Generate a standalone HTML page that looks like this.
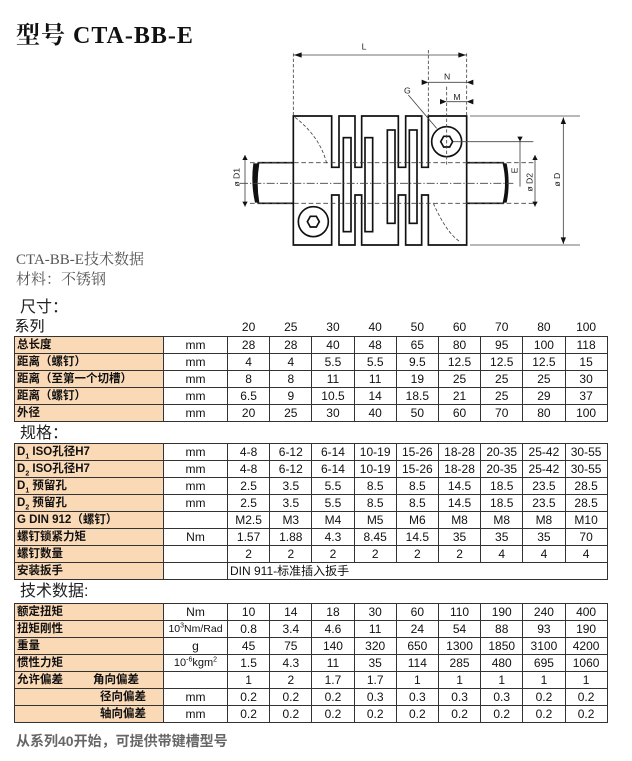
<!DOCTYPE html>
<html><head><meta charset="utf-8">
<style>
body{margin:0;width:632px;height:761px;background:#fff;position:relative;overflow:hidden;font-family:"Liberation Sans","Noto Sans CJK SC",sans-serif;color:#111}
.abs{position:absolute;white-space:nowrap}
table{position:absolute;left:14px;border-collapse:collapse;table-layout:fixed;width:593px;font-size:12px}
tr{height:17px}
td{border:1px solid #333;height:16px;padding:0;text-align:center;line-height:16px;overflow:hidden;white-space:nowrap}
td.l{background:#fad9b6;text-align:left;padding-left:2px;font-weight:bold;font-size:11.5px}
tr.h td{border:none;font-size:12px}
sub,sup{line-height:0;font-size:7px}
.sec{font-size:16px;color:#222;line-height:18px}
</style></head><body>
<div class="abs" style="left:16px;top:15px;font-family:'Liberation Serif','Noto Serif CJK SC',serif;font-weight:bold;font-size:24px;letter-spacing:1px">型号 CTA-BB-E</div>
<div class="abs" style="left:16px;top:248px;font-family:'Liberation Serif','Noto Serif CJK SC',serif;font-size:15px;color:#555">CTA-BB-E技术数据</div>
<div class="abs" style="left:16px;top:268px;font-family:'Liberation Serif','Noto Serif CJK SC',serif;font-size:15px;color:#555">材料：不锈钢</div>

<svg class="abs" style="left:220px;top:40px" width="360" height="210" viewBox="0 0 1080 630">
<g fill="none" stroke="#111" stroke-width="5">
<path d="M220 228H335V382H357V228H405V382H425V228H535V382H557V228H605V382H625V228H740V615H625V465H605V615H557V465H535V615H425V465H405V615H357V465H335V615H220Z" fill="#fff"/>
<rect x="370" y="293" width="23" height="282"/><rect x="435" y="293" width="23" height="282"/>
<rect x="502" y="270" width="23" height="280"/><rect x="568" y="270" width="23" height="280"/>
<path d="M220 368H115Q100 430 115 490H220"/><path d="M740 368H850Q865 430 850 490H740"/>
<circle cx="680" cy="305" r="45"/><circle cx="280" cy="545" r="45"/>
<polygon points="662,305 671,289 689,289 698,305 689,321 671,321"/>
<polygon points="262,545 271,529 289,529 298,545 289,561 271,561"/>
</g>
<path d="M100 370Q92 430 105 488L118 488Q108 430 118 370Z" fill="#111"/>
<path d="M850 370Q866 430 850 488L860 488Q872 430 860 370Z" fill="#111"/>
<g fill="none" stroke="#444" stroke-width="2.5">
<path d="M220 40V228M740 40V228M625 30V228M680 140V380M225 232Q300 290 320 370M640 490Q680 580 720 605" stroke-dasharray="10 6"/>
<path d="M220 45H740M625 127H740M680 185H740M565 165L650 265M750 228H1080M750 615H1080M1030 232V612M700 305H940M900 290V440M945 345V500M75 345V500"/>
<path d="M90 368H940M90 490H940" stroke-dasharray="14 8"/>
<path d="M60 430H880" stroke-dasharray="24 6 4 6"/>
</g>
<g fill="#111">
<polygon points="222,45 245,37 245,53"/><polygon points="738,45 715,37 715,53"/>
<polygon points="625,127 605,119 605,135"/><polygon points="740,127 760,119 760,135"/>
<polygon points="680,185 660,177 660,193"/><polygon points="740,185 760,177 760,193"/>
<polygon points="1030,232 1022,252 1038,252"/><polygon points="1030,612 1022,592 1038,592"/>
<polygon points="945,345 937,360 953,360"/><polygon points="945,500 937,485 953,485"/>
<polygon points="75,345 67,360 83,360"/><polygon points="75,500 67,485 83,485"/>
<polygon points="900,305 892,290 908,290"/>
</g>
<g font-family="Liberation Sans,sans-serif" font-size="26" fill="#222">
<text x="425" y="28">L</text><text x="672" y="118">N</text><text x="700" y="180">M</text><text x="552" y="160">G</text>
<text transform="translate(58,440) rotate(-90)">ø D1</text>
<text transform="translate(893,400) rotate(-90)">E</text>
<text transform="translate(938,455) rotate(-90)">ø D2</text>
<text transform="translate(1020,440) rotate(-90)">ø D</text>
</g>
</svg>

<div class="abs sec" style="left:20px;top:299px">尺寸：</div>
<table style="top:319px">
<colgroup><col style="width:149px"><col style="width:64px"><col span="9" style="width:42.2px"></colgroup>
<tr class="h"><td style="text-align:left;font-size:15px">系列</td><td></td><td>20</td><td>25</td><td>30</td><td>40</td><td>50</td><td>60</td><td>70</td><td>80</td><td>100</td></tr>
<tr><td class="l">总长度</td><td>mm</td><td>28</td><td>28</td><td>40</td><td>48</td><td>65</td><td>80</td><td>95</td><td>100</td><td>118</td></tr>
<tr><td class="l">距离（螺钉）</td><td>mm</td><td>4</td><td>4</td><td>5.5</td><td>5.5</td><td>9.5</td><td>12.5</td><td>12.5</td><td>12.5</td><td>15</td></tr>
<tr><td class="l">距离（至第一个切槽）</td><td>mm</td><td>8</td><td>8</td><td>11</td><td>11</td><td>19</td><td>25</td><td>25</td><td>25</td><td>30</td></tr>
<tr><td class="l">距离（螺钉）</td><td>mm</td><td>6.5</td><td>9</td><td>10.5</td><td>14</td><td>18.5</td><td>21</td><td>25</td><td>29</td><td>37</td></tr>
<tr><td class="l">外径</td><td>mm</td><td>20</td><td>25</td><td>30</td><td>40</td><td>50</td><td>60</td><td>70</td><td>80</td><td>100</td></tr>
</table>

<div class="abs sec" style="left:20px;top:425px">规格：</div>
<table style="top:443px">
<colgroup><col style="width:149px"><col style="width:64px"><col span="9" style="width:42.2px"></colgroup>
<tr><td class="l">D<sub>1</sub> ISO孔径H7</td><td>mm</td><td>4-8</td><td>6-12</td><td>6-14</td><td>10-19</td><td>15-26</td><td>18-28</td><td>20-35</td><td>25-42</td><td>30-55</td></tr>
<tr><td class="l">D<sub>2</sub> ISO孔径H7</td><td>mm</td><td>4-8</td><td>6-12</td><td>6-14</td><td>10-19</td><td>15-26</td><td>18-28</td><td>20-35</td><td>25-42</td><td>30-55</td></tr>
<tr><td class="l">D<sub>1</sub> 预留孔</td><td>mm</td><td>2.5</td><td>3.5</td><td>5.5</td><td>8.5</td><td>8.5</td><td>14.5</td><td>18.5</td><td>23.5</td><td>28.5</td></tr>
<tr><td class="l">D<sub>2</sub> 预留孔</td><td>mm</td><td>2.5</td><td>3.5</td><td>5.5</td><td>8.5</td><td>8.5</td><td>14.5</td><td>18.5</td><td>23.5</td><td>28.5</td></tr>
<tr><td class="l">G DIN 912（螺钉）</td><td></td><td>M2.5</td><td>M3</td><td>M4</td><td>M5</td><td>M6</td><td>M8</td><td>M8</td><td>M8</td><td>M10</td></tr>
<tr><td class="l">螺钉锁紧力矩</td><td>Nm</td><td>1.57</td><td>1.88</td><td>4.3</td><td>8.45</td><td>14.5</td><td>35</td><td>35</td><td>35</td><td>70</td></tr>
<tr><td class="l">螺钉数量</td><td></td><td>2</td><td>2</td><td>2</td><td>2</td><td>2</td><td>2</td><td>4</td><td>4</td><td>4</td></tr>
<tr><td class="l">安装扳手</td><td></td><td colspan="9" style="text-align:left;padding-left:2px">DIN 911-标准插入扳手</td></tr>
</table>

<div class="abs sec" style="left:20px;top:583px">技术数据:</div>
<table style="top:603px">
<colgroup><col style="width:149px"><col style="width:64px"><col span="9" style="width:42.2px"></colgroup>
<tr><td class="l">额定扭矩</td><td>Nm</td><td>10</td><td>14</td><td>18</td><td>30</td><td>60</td><td>110</td><td>190</td><td>240</td><td>400</td></tr>
<tr><td class="l">扭矩刚性</td><td style="font-size:10.5px">10<sup>3</sup>Nm/Rad</td><td>0.8</td><td>3.4</td><td>4.6</td><td>11</td><td>24</td><td>54</td><td>88</td><td>93</td><td>190</td></tr>
<tr><td class="l">重量</td><td>g</td><td>45</td><td>75</td><td>140</td><td>320</td><td>650</td><td>1300</td><td>1850</td><td>3100</td><td>4200</td></tr>
<tr><td class="l">惯性力矩</td><td style="font-size:11px">10<sup>-6</sup>kgm<sup>2</sup></td><td>1.5</td><td>4.3</td><td>11</td><td>35</td><td>114</td><td>285</td><td>480</td><td>695</td><td>1060</td></tr>
<tr><td class="l">允许偏差<span style="margin-left:30px">角向偏差</span></td><td></td><td>1</td><td>2</td><td>1.7</td><td>1.7</td><td>1</td><td>1</td><td>1</td><td>1</td><td>1</td></tr>
<tr><td class="l"><span style="margin-left:83px">径向偏差</span></td><td>mm</td><td>0.2</td><td>0.2</td><td>0.2</td><td>0.3</td><td>0.3</td><td>0.3</td><td>0.3</td><td>0.2</td><td>0.2</td></tr>
<tr><td class="l"><span style="margin-left:83px">轴向偏差</span></td><td>mm</td><td>0.2</td><td>0.2</td><td>0.2</td><td>0.2</td><td>0.2</td><td>0.2</td><td>0.2</td><td>0.2</td><td>0.2</td></tr>
</table>
<div class="abs" style="left:16px;top:731px;font-size:14px;font-weight:bold;color:#666">从系列40开始，可提供带键槽型号</div>
</body></html>
